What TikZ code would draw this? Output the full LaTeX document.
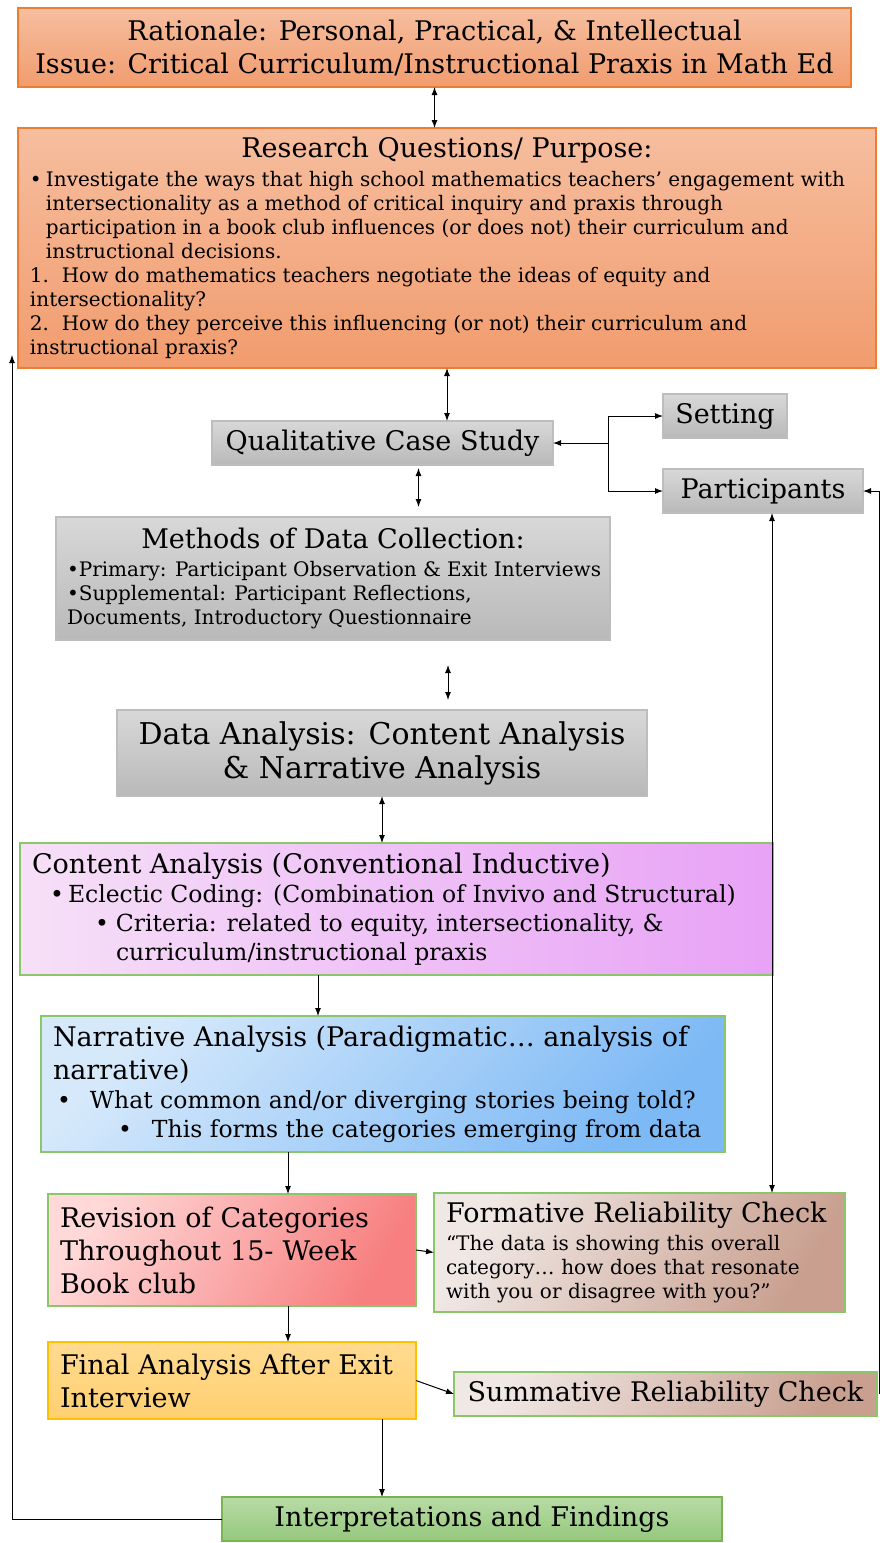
\documentclass[tikz,border=0pt]{standalone}
\usepackage{fontspec}
\setmainfont{DejaVu Serif}
\usetikzlibrary{arrows.meta,calc}
\setlength\parindent{0pt}

\definecolor{orgtop}{HTML}{F6BE9F}
\definecolor{orgbot}{HTML}{F19C6E}
\definecolor{orgline}{HTML}{ED7D31}
\definecolor{grytop}{HTML}{D8D8D8}
\definecolor{grybot}{HTML}{B9B9B9}
\definecolor{gryline}{HTML}{BDBDBD}
\definecolor{grnline}{HTML}{8CC66A}
\definecolor{pinkl}{HTML}{F6E0F7}
\definecolor{pinkr}{HTML}{E8A2F6}
\definecolor{bluel}{HTML}{D6E9FB}
\definecolor{bluer}{HTML}{7DB9F5}
\definecolor{redl}{HTML}{FFD8D8}
\definecolor{redr}{HTML}{F77F7F}
\definecolor{tanl}{HTML}{F0E8E5}
\definecolor{tanr}{HTML}{C9A090}
\definecolor{yeltop}{HTML}{FFDA90}
\definecolor{yelbot}{HTML}{FFD070}
\definecolor{yelline}{HTML}{FFC000}
\definecolor{inttop}{HTML}{B8DBA6}
\definecolor{intbot}{HTML}{95C87C}
\definecolor{intline}{HTML}{78B552}

% font sizes, with the font's own word space
\newcommand\txtbig{\fontsize{27}{33}\selectfont\spaceskip=0pt\xspaceskip=0pt\relax}
\newcommand\txthuge{\fontsize{30}{34}\selectfont\spaceskip=0pt\xspaceskip=0pt\relax}
\newcommand\txtmid{\fontsize{23.5}{29}\selectfont\spaceskip=0pt\xspaceskip=0pt\relax}
\newcommand\txtsmall{\fontsize{20}{24}\selectfont\spaceskip=0pt\xspaceskip=0pt\relax}

\begin{document}
\begin{tikzpicture}[x=1pt, y=-1pt,
    box/.style={draw, line width=1.2pt, anchor=north west, inner sep=0pt, outer sep=0pt},
    orangebox/.style={top color=orgtop, bottom color=orgbot, draw=orgline},
    graybox/.style={top color=grytop, bottom color=grybot, draw=gryline},
    pinkbox/.style={left color=pinkl, right color=pinkr, draw=grnline},
    bluebox/.style={top color=bluel, bottom color=bluer, shading angle=45, draw=grnline},
    redbox/.style={top color=redl, bottom color=redr, shading angle=60, draw=grnline},
    tanbox/.style={top color=tanl, bottom color=tanr, shading angle=60, draw=grnline},
    yellowbox/.style={top color=yeltop, bottom color=yelbot, draw=yelline},
    greenbox/.style={top color=inttop, bottom color=intbot, draw=intline},
    arr/.style={-{Latex[length=8pt,width=6pt]}, line width=1pt},
    dbl/.style={{Latex[length=8pt,width=6pt]}-{Latex[length=8pt,width=6pt]}, line width=1pt}]
  \useasboundingbox (0,0) rectangle (883,1543);

  % rationale and research questions
  \node[box, orangebox, minimum width=833pt, minimum height=79pt, align=center, font=\txtbig] (rat) at (18,8)
    {Rationale: Personal, Practical, \& Intellectual\\Issue: Critical Curriculum/Instructional Praxis in Math Ed};
  \node[box, orangebox, minimum width=858pt, minimum height=240pt, text width=834pt, inner xsep=12pt] (rq) at (18,128) {%
    {\txtbig\centering Research Questions/ Purpose:\par}
    \vspace{5pt}
    \txtsmall\raggedright
    \hangindent=16pt\hangafter=1
    \makebox[16pt][l]{\textbullet}Investigate the ways that high school mathematics teachers’ engagement with\newline
    intersectionality as a method of critical inquiry and praxis through\newline
    participation in a book club influences (or does not) their curriculum and\newline
    instructional decisions.\par
    1.\ \ How do mathematics teachers negotiate the ideas of equity and\newline
    intersectionality?\par
    2.\ \ How do they perceive this influencing (or not) their curriculum and\newline
    instructional praxis?\par};

  % design and data
  \node[box, graybox, minimum width=341pt, minimum height=44pt, font=\txtbig] (qcs) at (212,421) {Qualitative Case Study};
  \node[box, graybox, minimum width=124pt, minimum height=44pt, font=\txtbig] (set) at (663,394) {Setting};
  \node[box, graybox, minimum width=200pt, minimum height=44pt, font=\txtbig] (par) at (663,469) {Participants};
  \node[box, graybox, minimum width=554pt, minimum height=123pt, text width=532pt, inner xsep=11pt] (meth) at (56,517) {%
    {\txtbig\centering Methods of Data Collection:\par}
    \vspace{4pt}
    \txtsmall\raggedright
    \mbox{\textbullet Primary: Participant Observation \& Exit Interviews}\par
    \textbullet Supplemental: Participant Reflections,\newline
    Documents, Introductory Questionnaire\par};
  \node[box, graybox, minimum width=530pt, minimum height=86pt, align=center, font=\txthuge] (da) at (117,710)
    {Data Analysis: Content Analysis\\\& Narrative Analysis};

  % analysis steps
  \node[box, pinkbox, minimum width=753pt, minimum height=132pt, text width=729pt, inner xsep=12pt] (ca) at (20,843) {%
    \raggedright\txtbig Content Analysis (Conventional Inductive)\par
    \txtmid
    \hspace*{18pt}\makebox[18pt][l]{\textbullet}Eclectic Coding: (Combination of Invivo and Structural)\par
    {\leftskip=84pt
    \hspace*{-21pt}\makebox[21pt][l]{\textbullet}Criteria: related to equity, intersectionality, \&\newline
    curriculum/instructional praxis\par}};
  \node[box, bluebox, minimum width=684pt, minimum height=136pt, text width=660pt, inner xsep=12pt] (na) at (41,1016) {%
    \raggedright\txtbig Narrative Analysis (Paradigmatic… analysis of\newline
    narrative)\par
    \txtmid
    \hspace*{4pt}\makebox[33pt][l]{\textbullet}What common and/or diverging stories being told?\par
    \hspace*{65pt}\makebox[34pt][l]{\textbullet}This forms the categories emerging from data\par};
  \node[box, redbox, minimum width=368pt, minimum height=112pt, text width=344pt, inner xsep=12pt, align=left, font=\txtbig] (rev) at (48,1194)
    {Revision of Categories\\Throughout 15- Week\\Book club};
  \node[box, tanbox, minimum width=411pt, minimum height=119pt, text width=387pt, inner xsep=12pt, align=left, font=\txtsmall] (form) at (434,1193)
    {{\txtbig Formative Reliability Check}\\[4pt]
    “The data is showing this overall\\category… how does that resonate\\with you or disagree with you?”};
  \node[box, yellowbox, minimum width=368pt, minimum height=77pt, text width=344pt, inner xsep=12pt, align=left, font=\txtbig] (fin) at (48,1342)
    {Final Analysis After Exit\\Interview};
  \node[box, tanbox, minimum width=423pt, minimum height=44pt, font=\txtbig] (sum) at (454,1372) {Summative Reliability Check};
  \node[box, greenbox, minimum width=500pt, minimum height=44pt, font=\txtbig] (int) at (222,1497) {Interpretations and Findings};

  \coordinate (fork) at ($(qcs.east)+(55,0)$);
  \coordinate (back) at (12,355);

  % connectors
  \draw[dbl] (rat.south) -- (rat.south |- rq.north);
  \draw[dbl] (rq.south) -- (rq.south |- qcs.north);
  \draw[arr] (fork) -- (qcs.east);
  \draw[arr] (fork) |- (set.west);
  \draw[arr] (fork) |- (par.west);
  \draw[dbl, shorten <=3pt, shorten >=10pt] ([xshift=36pt]qcs.south) -- ([xshift=36pt]qcs.south |- meth.north);
  \draw[dbl, shorten <=10pt, shorten >=25pt] ([xshift=66pt]da.north) -- ([xshift=66pt]da.north |- meth.south);
  \draw[dbl] (da.south) -- (da.south |- ca.north);
  \draw[arr] ([xshift=-65pt]na.north |- ca.south) -- ([xshift=-65pt]na.north);
  \draw[arr] ([xshift=56pt]rev.north |- na.south) -- ([xshift=56pt]rev.north);
  \draw[arr] (rev.east) -- (form.west);
  \draw[dbl] ([xshift=9pt]par.south) -- ([xshift=9pt]par.south |- form.north);
  \draw[arr] ([xshift=56pt]fin.north |- rev.south) -- ([xshift=56pt]fin.north);
  \draw[arr] (fin.east) -- (sum.west);
  \draw[arr] ([xshift=2pt]sum.east) |- (par.east);
  \draw[arr] ([xshift=-90pt]int.north |- fin.south) -- ([xshift=-90pt]int.north);
  \draw[arr] (int.west) -| (back);
\end{tikzpicture}
\end{document}
